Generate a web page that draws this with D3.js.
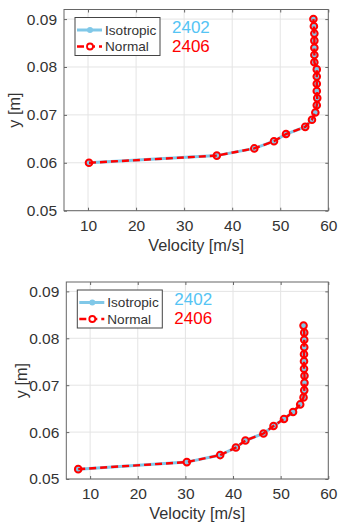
<!DOCTYPE html>
<html>
<head>
<meta charset="utf-8">
<script src="https://cdn.jsdelivr.net/npm/d3@7"></script>
<style>
  html, body { margin: 0; padding: 0; background: #fff; }
  svg { display: block; font-family: "Liberation Sans", Arial, Helvetica, sans-serif; }
</style>
</head>
<body>
<svg id="chart" width="340" height="527"></svg>
<script>
// Velocity profiles, case A (upper panel)
const heightA = [0.0600, 0.0615, 0.0630, 0.0645, 0.0660, 0.0675, 0.0690, 0.0705, 0.0720, 0.0735, 0.0750,
                 0.0765, 0.0780, 0.0795, 0.0810, 0.0825, 0.0840, 0.0855, 0.0870, 0.0885, 0.0900];
const isotropicA = [10.2, 36.8, 44.6, 48.7, 51.2, 55.2, 56.6, 57.3, 57.6, 57.7, 57.6,
                    57.6, 57.6, 57.6, 57.1, 57.1, 57.1, 57.1, 57.1, 57.0, 56.9];
const normalA    = [10.2, 36.8, 44.6, 48.7, 51.2, 55.2, 56.6, 57.3, 57.6, 57.7, 57.6,
                    57.6, 57.6, 57.6, 57.1, 57.1, 57.1, 57.1, 57.1, 57.0, 56.9];

// Velocity profiles, case B (lower panel)
const heightB = [0.0521, 0.0536, 0.0551, 0.0567, 0.0582, 0.0597, 0.0613, 0.0628, 0.0643, 0.0659, 0.0674,
                 0.0689, 0.0705, 0.0720, 0.0735, 0.0751, 0.0766, 0.0781, 0.0797, 0.0812, 0.0827];
const isotropicB = [7.5, 30.3, 37.3, 40.6, 42.6, 46.4, 48.5, 50.7, 52.6, 54.1, 54.8,
                    54.95, 55.0, 55.0, 54.9, 54.9, 54.9, 54.95, 54.95, 54.95, 54.8];
const normalB    = [7.5, 30.3, 37.3, 40.6, 42.6, 46.4, 48.5, 50.7, 52.6, 54.1, 54.8,
                    54.95, 55.0, 55.0, 54.9, 54.9, 54.9, 54.95, 54.95, 54.95, 54.8];

const xTicks = [10, 20, 30, 40, 50, 60];
const yTicks = [0.05, 0.06, 0.07, 0.08, 0.09];
const xDomain = [5, 60];
const yDomain = [0.05, 0.092];
const seriesNames = ["Isotropic", "Normal"];
const runLabels = ["2402", "2406"];

const BLUE = "#80c8e8";
const BLUE_TEXT = "#55c4f4";
const RED = "#ff0000";
const INK = "#333333";

const svg = d3.select("#chart");

function panel(box, heights, iso, nrm, yLabelX) {
  const x = d3.scaleLinear().domain(xDomain).range([box.left, box.right]);
  const y = d3.scaleLinear().domain(yDomain).range([box.bottom, box.top]);
  const g = svg.append("g");

  // grid
  g.append("g").selectAll("line").data(xTicks).join("line")
    .attr("x1", d => x(d)).attr("x2", d => x(d))
    .attr("y1", box.top).attr("y2", box.bottom)
    .attr("stroke", "#e4e4e4").attr("stroke-width", 1);
  g.append("g").selectAll("line").data(yTicks).join("line")
    .attr("x1", box.left).attr("x2", box.right)
    .attr("y1", d => y(d)).attr("y2", d => y(d))
    .attr("stroke", "#e4e4e4").attr("stroke-width", 1);

  // axes with inward ticks on all four sides
  const tl = 3;
  const axB = d3.axisBottom(x).tickValues(xTicks).tickSizeInner(-tl).tickSizeOuter(0).tickPadding(9).tickFormat(d3.format("d"));
  const axT = d3.axisTop(x).tickValues(xTicks).tickSizeInner(-tl).tickSizeOuter(0).tickFormat("");
  const axL = d3.axisLeft(y).tickValues(yTicks).tickSizeInner(-tl).tickSizeOuter(0).tickPadding(7).tickFormat(d3.format(".2f"));
  const axR = d3.axisRight(y).tickValues(yTicks).tickSizeInner(-tl).tickSizeOuter(0).tickFormat("");

  const styleAxis = sel => {
    sel.select(".domain").remove();
    sel.selectAll("line").attr("stroke", "#666");
    sel.selectAll("text").attr("fill", INK).style("font-size", "15.5px");
  };
  g.append("g").attr("transform", `translate(0,${box.bottom})`).call(axB).call(styleAxis);
  g.append("g").attr("transform", `translate(0,${box.top})`).call(axT).call(styleAxis);
  g.append("g").attr("transform", `translate(${box.left},0)`).call(axL).call(styleAxis);
  g.append("g").attr("transform", `translate(${box.right},0)`).call(axR).call(styleAxis);

  g.append("rect")
    .attr("x", box.left).attr("y", box.top)
    .attr("width", box.right - box.left).attr("height", box.bottom - box.top)
    .attr("fill", "none").attr("stroke", "#666").attr("stroke-width", 1);

  // axis titles
  g.append("text")
    .attr("x", (box.left + box.right) / 2).attr("y", box.bottom + 40)
    .attr("text-anchor", "middle").attr("fill", INK).style("font-size", "16.3px")
    .text("Velocity [m/s]");
  g.append("text")
    .attr("transform", `translate(${yLabelX},${(box.top + box.bottom) / 2}) rotate(-90)`)
    .attr("text-anchor", "middle").attr("dy", "0.35em").attr("fill", INK).style("font-size", "16.3px")
    .text("y [m]");

  // series
  const line = d3.line().x(d => x(d[0])).y(d => y(d[1]));
  const isoPts = iso.map((v, i) => [v, heights[i]]);
  const nrmPts = nrm.map((v, i) => [v, heights[i]]);

  g.append("path").datum(isoPts).attr("d", line)
    .attr("fill", "none").attr("stroke", BLUE).attr("stroke-width", 3);
  g.append("g").selectAll("circle").data(isoPts).join("circle")
    .attr("cx", d => x(d[0])).attr("cy", d => y(d[1])).attr("r", 3)
    .attr("fill", BLUE);

  g.append("path").datum(nrmPts).attr("d", line)
    .attr("fill", "none").attr("stroke", RED).attr("stroke-width", 2.4)
    .attr("stroke-dasharray", "7,4");
  g.append("g").selectAll("circle").data(nrmPts).join("circle")
    .attr("cx", d => x(d[0])).attr("cy", d => y(d[1])).attr("r", 3.3)
    .attr("fill", "none").attr("stroke", RED).attr("stroke-width", 2);

  // legend
  const lx = box.left + 11, ly = box.top + 8;
  const lg = g.append("g").attr("transform", `translate(${lx},${ly})`);
  lg.append("rect").attr("width", 85).attr("height", 38)
    .attr("fill", "#fff").attr("stroke", "#444").attr("stroke-width", 1);
  const rows = [
    { name: seriesNames[0], y: 12.5, color: BLUE, dash: null, fill: BLUE, stroke: "none", r: 3, w: 3 },
    { name: seriesNames[1], y: 29, color: RED, dash: "7,4", fill: "#fff", stroke: RED, r: 3, w: 2.4 }
  ];
  rows.forEach(r => {
    lg.append("line").attr("x1", 2).attr("x2", 27).attr("y1", r.y).attr("y2", r.y)
      .attr("stroke", r.color).attr("stroke-width", r.w)
      .attr("stroke-dasharray", r.dash);
    lg.append("circle").attr("cx", 15).attr("cy", r.y).attr("r", r.r)
      .attr("fill", r.fill).attr("stroke", r.stroke).attr("stroke-width", 1.8);
    lg.append("text").attr("x", 30).attr("y", r.y).attr("dy", "0.35em")
      .attr("fill", INK).style("font-size", "13.6px").text(r.name);
  });

  // run identifiers
  g.append("text").attr("x", box.left + 108).attr("y", box.top + 23)
    .attr("fill", BLUE_TEXT).style("font-size", "17px").text(runLabels[0]);
  g.append("text").attr("x", box.left + 108).attr("y", box.top + 42)
    .attr("fill", RED).style("font-size", "17px").text(runLabels[1]);
}

panel({ left: 64, right: 328.3, top: 9.5, bottom: 210.7 }, heightA, isotropicA, normalA, 14);
panel({ left: 66.3, right: 328.3, top: 282, bottom: 479 }, heightB, isotropicB, normalB, 21);
</script>
</body>
</html>
